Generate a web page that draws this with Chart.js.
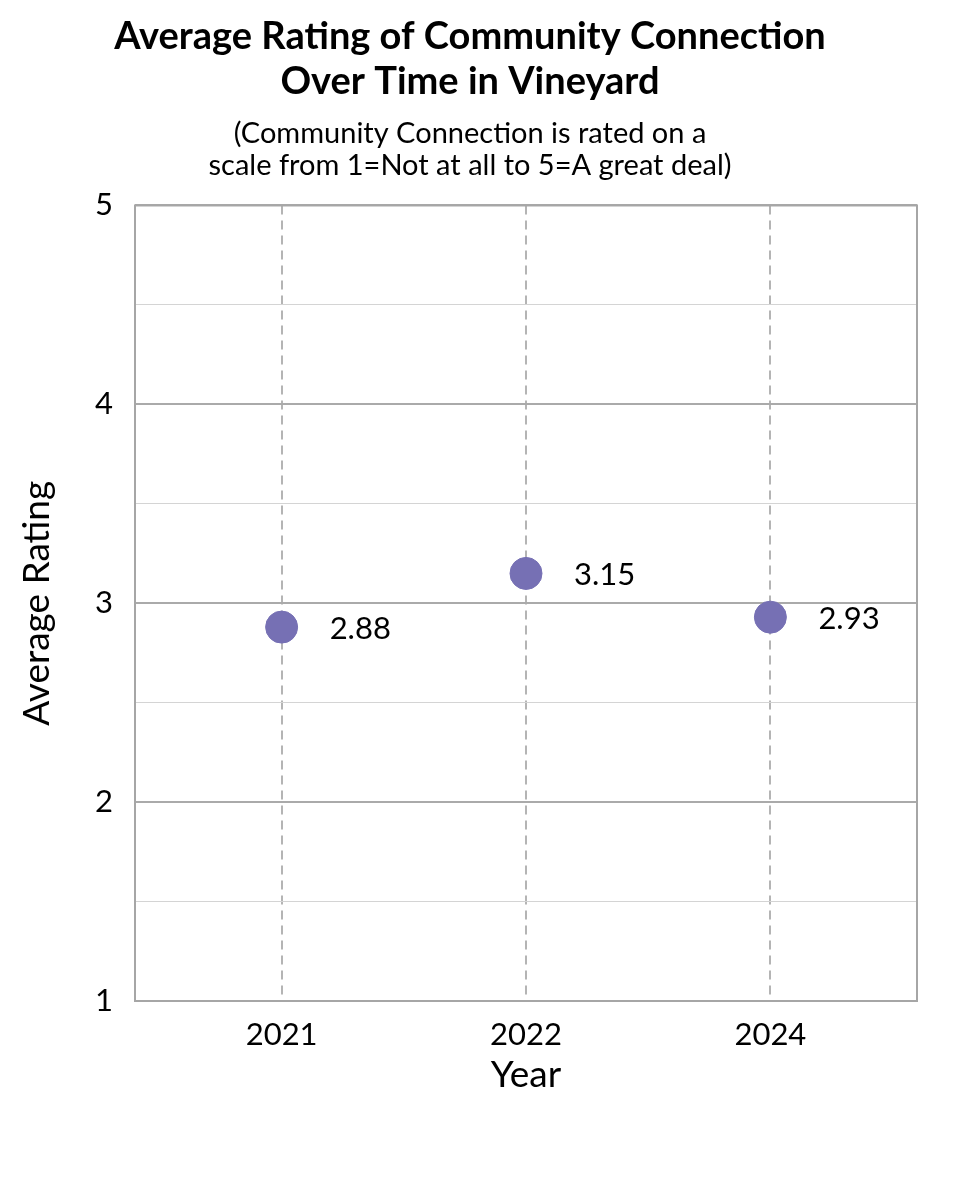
<!DOCTYPE html>
<html>
<head>
<meta charset="utf-8">
<title>Average Rating of Community Connection</title>
<script src="https://cdn.jsdelivr.net/npm/chart.js@4.4.1/dist/chart.umd.min.js"></script>
<style>
  html, body { margin: 0; padding: 0; background: #ffffff; }
  #wrap { width: 960px; height: 1200px; }
</style>
</head>
<body>
<div id="wrap"><canvas id="ratingChart" width="960" height="1200"></canvas></div>
<script>
/* ---------- DATA ---------- */
const years = ["2021", "2022", "2024"];
const ratings = [2.88, 3.15, 2.93];
const ratingLabels = ["2.88", "3.15", "2.93"];
const yTicks = [1, 2, 3, 4, 5];

const FONT = "Lato, 'Open Sans', sans-serif";
const DOT_COLOR = "#7670b4";

/* ---------- PLUGINS ---------- */
// Gray box around the plot area
const frameBox = {
    id: "frameBox",
    afterDraw(chart) {
        const a = chart.chartArea, ctx = chart.ctx;
        ctx.save();
        ctx.strokeStyle = "#a6a6a6";
        ctx.lineWidth = 2;
        ctx.strokeRect(a.left, a.top, a.right - a.left, a.bottom - a.top);
        ctx.restore();
    }
};

// Value labels to the right of each point
const valueLabels = {
    id: "valueLabels",
    afterDatasetsDraw(chart) {
        const ctx = chart.ctx;
        const meta = chart.getDatasetMeta(0);
        ctx.save();
        ctx.font = "31px " + FONT;
        ctx.fillStyle = "#000000";
        ctx.textBaseline = "middle";
        ctx.textAlign = "left";
        meta.data.forEach((pt, i) => {
            ctx.fillText(ratingLabels[i], pt.x + 48, pt.y + 2);
        });
        ctx.restore();
    }
};

/* ---------- CHART ---------- */
const ctx = document.getElementById("ratingChart").getContext("2d");

new Chart(ctx, {
    type: "scatter",
    data: {
        datasets: [{
            data: ratings.map((v, i) => ({ x: i, y: v })),
            backgroundColor: DOT_COLOR,
            borderColor: DOT_COLOR,
            pointRadius: 16,
            pointHoverRadius: 16
        }]
    },
    options: {
        responsive: false,
        animation: false,
        layout: { padding: { left: 23, right: 43, top: 14, bottom: 103 } },
        plugins: {
            legend: { display: false },
            tooltip: { enabled: false },
            title: {
                display: true,
                text: ["Average Rating of Community Connection", "Over Time in Vineyard"],
                color: "#000000",
                font: { family: FONT, size: 38, weight: "bold", lineHeight: 1.18 },
                padding: { top: 0, bottom: 14 }
            },
            subtitle: {
                display: true,
                text: ["(Community Connection is rated on a", "scale from 1=Not at all to 5=A great deal)"],
                color: "#000000",
                font: { family: FONT, size: 29, lineHeight: 1.1 },
                padding: { top: 0, bottom: 24 }
            }
        },
        scales: {
            x: {
                type: "linear",
                min: -0.6,
                max: 2.6,
                afterFit(scale) { scale.height = 96; },
                ticks: {
                    stepSize: 1,
                    includeBounds: false,
                    color: "#000000",
                    padding: 15,
                    font: { family: FONT, size: 31 },
                    callback: (v) => years[v] !== undefined ? years[v] : ""
                },
                grid: {
                    color: "#b4b4b4",
                    lineWidth: 2,
                    drawTicks: false
                },
                border: { display: false, dash: [9, 6] },
                title: {
                    display: true,
                    text: "Year",
                    color: "#000000",
                    font: { family: FONT, size: 37 },
                    padding: { top: 0, bottom: 0 }
                }
            },
            y: {
                min: 1,
                max: 5,
                afterFit(scale) { scale.width = 112; },
                ticks: {
                    stepSize: 0.5,
                    color: "#000000",
                    padding: 22,
                    font: { family: FONT, size: 31 },
                    callback: (v) => yTicks.includes(v) ? String(v) : ""
                },
                grid: {
                    color: (c) => Number.isInteger(c.tick.value) ? "#aaaaaa" : "#d4d4d4",
                    lineWidth: (c) => Number.isInteger(c.tick.value) ? 2 : 1,
                    drawTicks: false
                },
                border: { display: false },
                title: {
                    display: true,
                    text: "Average Rating",
                    color: "#000000",
                    font: { family: FONT, size: 37, lineHeight: 0.75 },
                    padding: { top: 0, bottom: 0 }
                }
            }
        }
    },
    plugins: [frameBox, valueLabels]
});
</script>
</body>
</html>
